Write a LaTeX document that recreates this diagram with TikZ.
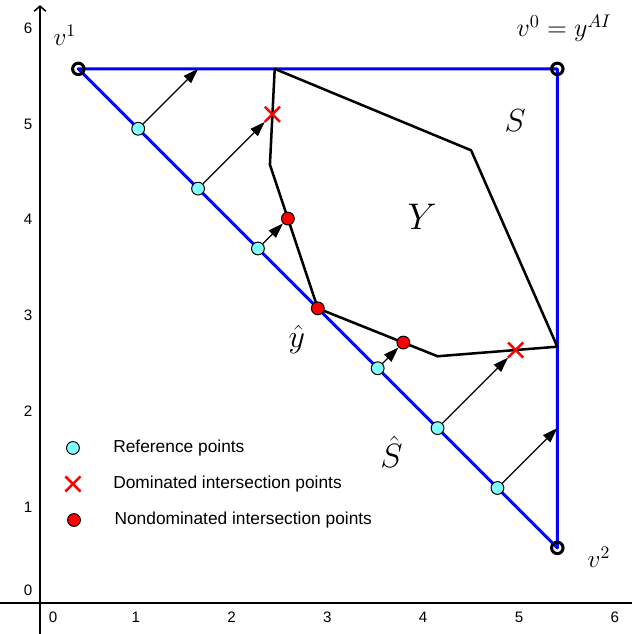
\RequirePackage{fix-cm}
\documentclass[tikz,border=0pt]{standalone}
\usepackage{fontspec}
\setsansfont{Liberation Sans}
\usepackage{tikz}
\usetikzlibrary{arrows.meta,shapes.misc}
\definecolor{frontblue}{HTML}{0000FF}
\definecolor{refcyan}{HTML}{80FFFF}
\definecolor{isecred}{HTML}{FF0000}

\begin{document}
\begin{tikzpicture}[
  x=2cm, y=2cm,
  tick/.style={font=\sffamily\fontsize{9}{10}\selectfont, inner sep=0pt},
  legtxt/.style={font=\sffamily\fontsize{10.3}{12}\selectfont, anchor=west, inner sep=0pt},
  bnd/.style={draw=frontblue, line width=1.8pt, line join=round},
  ylin/.style={draw=black, line width=1.5pt, line join=round},
  axis/.style={draw=black, line width=0.9pt},
  ray/.style={-{Triangle[length=9pt,width=6pt]}, line width=0.7pt},
  vert/.style={circle, draw=black, line width=1.8pt, minimum size=6.8pt, inner sep=0pt},
  refpt/.style={circle, draw=black, fill=refcyan, line width=0.6pt, minimum size=7.6pt, inner sep=0pt},
  ndpt/.style={circle, draw=black, fill=isecred, line width=0.6pt, minimum size=7.6pt, inner sep=0pt},
  dompt/.style={cross out, draw=isecred, line width=1.5pt, minimum size=7.5pt, inner sep=0pt},
  mlbl/.style={inner sep=0pt}
]
\useasboundingbox (-0.4175,-0.324) rectangle (6.18,6.294);

% axes
\coordinate (xl) at (-0.4175,0);
\coordinate (xr) at (6.18,0);
\coordinate (yb) at (0,-0.324);
\coordinate (yt) at (0,6.24);
\draw[axis] (xl) -- (xr);
\draw[axis, -{Straight Barb[length=3pt,width=7pt]}] (yb) -- (yt);
\node[tick] (xt0) at (0.136,-0.146) {0};
\node[tick] (yt0) at (-0.125,0.136) {0};
\foreach \k in {1,...,6} {
  \node[tick] (xt\k) at (\k,-0.146) {\k};
  \node[tick] (yt\k) at (-0.125,\k) {\k};
}

\begin{scope}[yshift=-0.05cm]
\coordinate (cv0) at (5.4,5.6);
\coordinate (cv1) at (0.4,5.6);
\coordinate (cv2) at (5.4,0.6);
\coordinate (yA) at (2.45,5.6);
\coordinate (yB) at (2.4,4.6);
\coordinate (yD) at (2.9,3.1);
\coordinate (yF) at (4.15,2.6);
\coordinate (yG) at (5.4,2.7);
\coordinate (yH) at (4.5,4.75);
\coordinate (t1) at (1.65,5.6);
\coordinate (t7) at (5.4,1.85);

\draw[bnd] (cv1) -- (cv0) -- (cv2) -- cycle;
\draw[ylin] (yA) -- (yB) -- (yD) -- (yF) -- (yG) -- (yH) -- cycle;

\node[vert] (v0) at (cv0) {};
\node[vert] (v1) at (cv1) {};
\node[vert] (v2) at (cv2) {};

\node[refpt] (r1) at (1.025,4.975) {};
\node[refpt] (r2) at (1.65,4.35) {};
\node[refpt] (r3) at (2.275,3.725) {};
\node[refpt] (r5) at (3.525,2.475) {};
\node[refpt] (r6) at (4.15,1.85) {};
\node[refpt] (r7) at (4.775,1.225) {};

\node[dompt] (t2) at (2.426,5.126) {};
\node[ndpt] (t3) at (2.5875,4.0375) {};
\node[ndpt] (yhat) at (yD) {};
\node[ndpt] (t5) at (3.793,2.743) {};
\node[dompt] (t6) at (4.965,2.665) {};

\draw[ray] (r1) -- (t1);
\draw[ray] (r2) -- (t2);
\draw[ray] (r3) -- (t3);
\draw[ray] (r5) -- (t5);
\draw[ray] (r6) -- (t6);
\draw[ray] (r7) -- (t7);
\end{scope}

% labels
\node[mlbl, anchor=base, font=\fontsize{15}{18}\selectfont] (lv1) at (0.26,5.82) {$v^1$};
\node[mlbl, anchor=base, font=\fontsize{15.5}{18}\selectfont] (lv0) at (5.47,5.91) {$v^0=y^{AI}$};
\node[mlbl, anchor=base, font=\fontsize{15}{18}\selectfont] (lv2) at (5.835,0.365) {$v^2$};
\node[mlbl, font=\fontsize{19}{22}\selectfont] (lS) at (4.96,5.04) {$S$};
\node[mlbl, font=\fontsize{22}{26}\selectfont] (lY) at (3.99,4.03) {$Y$};
\node[mlbl, font=\fontsize{19}{22}\selectfont] (lyhat) at (2.68,2.745) {$\hat{y}$};
\node[mlbl, font=\fontsize{20}{24}\selectfont] (lShat) at (3.67,1.58) {$\hat{S}$};

% legend
\node[refpt] (lg1) at (0.344,1.618) {};
\node[dompt] (lg2) at (0.344,1.242) {};
\node[ndpt] (lg3) at (0.355,0.866) {};
\node[legtxt] (lt1) at (0.762,1.618) {Reference points};
\node[legtxt] (lt2) at (0.762,1.242) {Dominated intersection points};
\node[legtxt] (lt3) at (0.775,0.866) {Nondominated intersection points};
\end{tikzpicture}
\end{document}
